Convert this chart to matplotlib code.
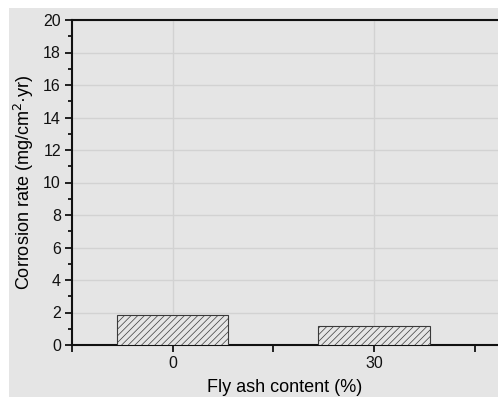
import matplotlib
matplotlib.use('Agg')
import matplotlib.pyplot as plt
from matplotlib.patches import Rectangle
from matplotlib.ticker import MultipleLocator

plt.rcParams['font.family'] = ['Liberation Sans', 'DejaVu Sans']
plt.rcParams['hatch.linewidth'] = 0.5
plt.rcParams['hatch.color'] = '#4a4a4a'

# Data
fly_ash = [0, 30]
corrosion_rate = [1.86, 1.17]
tick_labels = ['0', '30']

bg = '#e5e5e5'
fig = plt.figure(figsize=(4.98, 3.97), dpi=100)
fig.patch.set_facecolor('white')
fig.patches.append(Rectangle((9 / 498, 0), 1, (397 - 8) / 397, transform=fig.transFigure,
                             facecolor=bg, edgecolor='none', zorder=-10))

ax = fig.add_axes([72 / 498, 52 / 397, 1 - 72 / 498, 325 / 397])
ax.set_facecolor(bg)

ax.bar(fly_ash, corrosion_rate, width=16.6, facecolor=bg, edgecolor='#3a3a3a',
       linewidth=0.8, hatch='/////', zorder=3)

ax.set_xlim(-15, 48.5)
ax.set_ylim(0, 20)
ax.set_xticks(fly_ash)
ax.set_xticklabels(tick_labels)
ax.xaxis.set_minor_locator(MultipleLocator(15))
ax.yaxis.set_major_locator(MultipleLocator(2))
ax.yaxis.set_minor_locator(MultipleLocator(1))

ax.grid(True, which='major', color='#d2d2d2', linewidth=1.0, zorder=0)
ax.set_axisbelow(True)

for s in ['left', 'bottom', 'top']:
    ax.spines[s].set_linewidth(1.5)
    ax.spines[s].set_color('#111111')
ax.spines['right'].set_visible(False)

ax.tick_params(axis='both', which='major', direction='out', length=5, width=1.3,
               labelsize=11.5, colors='#111111', pad=3)
ax.tick_params(axis='both', which='minor', direction='out', length=3, width=1.2)
ax.tick_params(axis='x', which='minor', length=5)

ax.set_xlabel('Fly ash content (%)', fontsize=13, labelpad=6)
ax.set_ylabel('Corrosion rate (mg/cm$^2$·yr)', fontsize=13, labelpad=5)

fig.savefig('out.png', dpi=100, facecolor='white')
